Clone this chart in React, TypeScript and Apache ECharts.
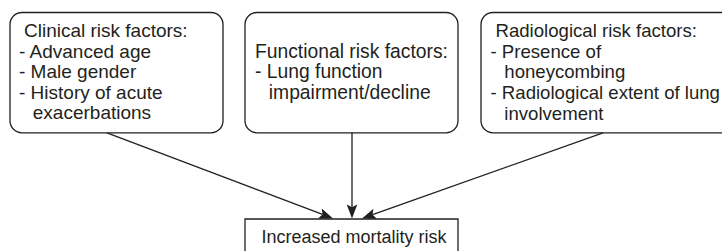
import React, { useEffect, useRef } from "react";
import * as echarts from "echarts";

// ---- content ----
const clinicalLines = [" Clinical risk factors:", "- Advanced age", "- Male gender", "- History of acute", "  exacerbations"];
const functionalLines = ["Functional risk factors:", "- Lung function", "  impairment/decline"];
const radiologicalLines = [" Radiological risk factors:", "- Presence of", "  honeycombing", "- Radiological extent of lung", "  involvement"];
const outcomeLabel = "Increased mortality risk";

// ---- layout ----
const INK = "#231f20";
const FONT = '"Liberation Sans", Arial, Helvetica, sans-serif';
const OUT_FONT = 18;
const LINE_H = 20.6;
const BOX_TOP = 12.5;
const BOX_H = 120.3;
const BOX_MID_BASELINE = 78.3;

const boxes = [
  { lines: clinicalLines, x: 10, w: 213, padX: 9, arrowFrom: 107, fontSize: 19 },
  { lines: functionalLines, x: 245, w: 213, padX: 10, arrowFrom: 352, fontSize: 19.3 },
  { lines: radiologicalLines, x: 481, w: 262, padX: 9.5, arrowFrom: 603, fontSize: 18.6 },
];
const outBox = { x: 245, y: 219, w: 213, h: 40, textCx: 354, baseline: 243.3 };
const arrowTips = [333, 352, 362];
const ARROW_TIP_Y = 218.4;

function leadIndent(s: string) {
  const m = s.match(/^ */);
  const n = m ? m[0].length : 0;
  if (n === 1) return 5;
  if (n >= 2) return 13.8;
  return 0;
}

function centerFromBaseline(b: number, fs: number) {
  return b - 0.3465 * fs;
}

function buildElements() {
  const els: any[] = [];
  boxes.forEach((b) => {
    els.push({
      type: "rect",
      shape: { x: b.x, y: BOX_TOP, width: b.w, height: BOX_H, r: 12 },
      style: { fill: "#fff", stroke: INK, lineWidth: 1.3 },
    });
    const n = b.lines.length;
    b.lines.forEach((ln, i) => {
      const baseline = BOX_MID_BASELINE + (i - (n - 1) / 2) * LINE_H;
      els.push({
        type: "text",
        x: b.x + b.padX + leadIndent(ln),
        y: centerFromBaseline(baseline, b.fontSize),
        style: {
          text: ln.trim(),
          fill: INK,
          fontSize: b.fontSize,
          fontFamily: FONT,
          align: "left",
          verticalAlign: "middle",
        },
      });
    });
  });

  els.push({
    type: "rect",
    shape: { x: outBox.x, y: outBox.y, width: outBox.w, height: outBox.h },
    style: { fill: "#fff", stroke: INK, lineWidth: 1.3 },
  });
  els.push({
    type: "text",
    x: outBox.textCx,
    y: centerFromBaseline(outBox.baseline, OUT_FONT),
    style: {
      text: outcomeLabel,
      fill: INK,
      fontSize: OUT_FONT,
      fontFamily: FONT,
      align: "center",
      verticalAlign: "middle",
    },
  });

  // arrows
  const L = 14;
  const W = 5.3;
  boxes.forEach((b, i) => {
    const sx = b.arrowFrom;
    const sy = BOX_TOP + BOX_H;
    const tx = arrowTips[i];
    const ty = ARROW_TIP_Y;
    const dx = tx - sx;
    const dy = ty - sy;
    const len = Math.hypot(dx, dy);
    const ux = dx / len;
    const uy = dy / len;
    const nx = -uy;
    const ny = ux;
    const bx = tx - L * ux;
    const by = ty - L * uy;
    const notchX = tx - 0.8 * L * ux;
    const notchY = ty - 0.8 * L * uy;
    els.push({
      type: "line",
      shape: { x1: sx, y1: sy, x2: notchX, y2: notchY },
      style: { stroke: INK, lineWidth: 1.3 },
    });
    els.push({
      type: "polygon",
      shape: {
        points: [
          [tx, ty],
          [bx + W * nx, by + W * ny],
          [notchX, notchY],
          [bx - W * nx, by - W * ny],
        ],
      },
      style: { fill: INK, stroke: "none" },
    });
  });
  return els;
}

export default function App() {
  const ref = useRef<HTMLDivElement>(null);
  useEffect(() => {
    if (!ref.current) return;
    const chart = echarts.init(ref.current, undefined, { renderer: "svg" });
    chart.setOption({
      animation: false,
      backgroundColor: "#ffffff",
      graphic: { elements: buildElements() },
    });
    return () => chart.dispose();
  }, []);
  return (
    <div
      ref={ref}
      style={{ position: "fixed", left: 0, top: 0, width: 722, height: 251 }}
    />
  );
}
